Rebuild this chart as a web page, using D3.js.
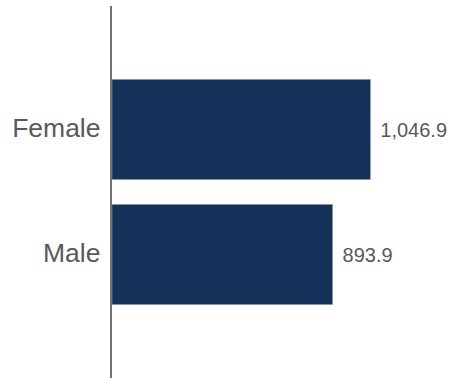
<!DOCTYPE html>
<html>
<head>
<meta charset="utf-8">
<script src="https://cdn.jsdelivr.net/npm/d3@7"></script>
<style>
html,body{margin:0;padding:0;background:#fff;}
svg{display:block;}
</style>
</head>
<body>
<svg id="chart" width="451" height="378"></svg>
<script>
const categories = ["Female", "Male"];
const values = [1046.9, 893.9];
const valueLabels = ["1,046.9", "893.9"];

const svg = d3.select("#chart");
const x0 = 112;
const x = d3.scaleLinear().domain([0, 1046.9]).range([x0, 370.3]);
const y = d3.scaleBand().domain(categories).range([6, 378]).paddingInner(0.2).paddingOuter(0.588);

svg.selectAll("rect.bar")
  .data(categories)
  .join("rect")
  .attr("class", "bar")
  .attr("x", x(0))
  .attr("y", d => y(d))
  .attr("width", (d, i) => x(values[i]) - x(0))
  .attr("height", y.bandwidth())
  .attr("fill", "#17325a")
  .attr("stroke", "#7f93b0")
  .attr("stroke-width", 0.6);

// axis line
svg.append("line")
  .attr("x1", 111).attr("x2", 111)
  .attr("y1", 6).attr("y2", 378)
  .attr("stroke", "#767171")
  .attr("stroke-width", 2);

// category labels
svg.selectAll("text.cat")
  .data(categories)
  .join("text")
  .attr("class", "cat")
  .attr("x", 100.5)
  .attr("y", d => y(d) + y.bandwidth() / 2)
  .attr("dy", "0.29em")
  .attr("text-anchor", "end")
  .attr("font-family", "Liberation Sans, Arial, sans-serif")
  .attr("font-size", 26.5)
  .attr("fill", "#595959")
  .text(d => d);

// value labels
svg.selectAll("text.val")
  .data(categories)
  .join("text")
  .attr("class", "val")
  .attr("x", (d, i) => x(values[i]) + 10)
  .attr("y", d => y(d) + y.bandwidth() / 2)
  .attr("dy", "0.35em")
  .attr("text-anchor", "start")
  .attr("font-family", "Liberation Sans, Arial, sans-serif")
  .attr("font-size", 20)
  .attr("fill", "#595959")
  .text((d, i) => valueLabels[i]);
</script>
</body>
</html>
